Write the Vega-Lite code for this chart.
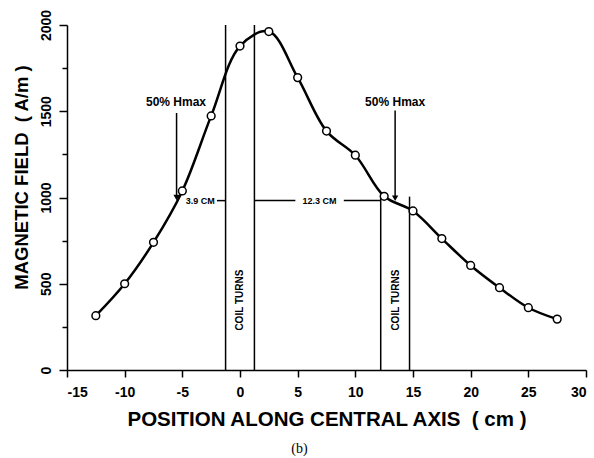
{
  "$schema": "https://vega.github.io/schema/vega-lite/v6.json",
  "width": 519,
  "height": 345,
  "autosize": "none",
  "padding": {"left": 67, "top": 25, "right": 8, "bottom": 88},
  "background": "white",
  "config": {
    "view": {"stroke": null},
    "font": "Liberation Sans",
    "axis": {"grid": false, "domainColor": "black", "tickColor": "black", "labelColor": "black", "titleColor": "black", "domainWidth": 1.5, "tickWidth": 1.5}
  },
  "title": {"text": "(b)", "orient": "bottom", "anchor": "middle", "font": "Liberation Serif", "fontSize": 14, "fontWeight": "normal", "dx": -27, "offset": 12},
  "datasets": {
    "curve": [
      {"pos": -12.5, "field": 315},
      {"pos": -10, "field": 500},
      {"pos": -7.5, "field": 740},
      {"pos": -5, "field": 1038},
      {"pos": -2.5, "field": 1473},
      {"pos": 0, "field": 1878},
      {"pos": 2.5, "field": 1962},
      {"pos": 5, "field": 1695},
      {"pos": 7.5, "field": 1385},
      {"pos": 10, "field": 1245},
      {"pos": 12.5, "field": 1007},
      {"pos": 15, "field": 922},
      {"pos": 17.5, "field": 762},
      {"pos": 20, "field": 606},
      {"pos": 22.5, "field": 477},
      {"pos": 25, "field": 361},
      {"pos": 27.5, "field": 295}
    ],
    "lines": [
      {"x": -1.25, "x2": -1.25, "y": 0, "y2": 2000},
      {"x": 1.25, "x2": 1.25, "y": 0, "y2": 2000},
      {"x": 12.2, "x2": 12.2, "y": 0, "y2": 1010},
      {"x": 14.7, "x2": 14.7, "y": 0, "y2": 1005},
      {"x": 1.25, "x2": 4.8, "y": 982, "y2": 982},
      {"x": 9.0, "x2": 12.2, "y": 982, "y2": 982},
      {"x": -2.0, "x2": -1.25, "y": 982, "y2": 982},
      {"x": -5.5, "x2": -5.5, "y": 1490, "y2": 1005},
      {"x": 13.45, "x2": 13.45, "y": 1505, "y2": 1000}
    ],
    "heads": [
      {"x": -5.5, "y": 1000},
      {"x": 13.45, "y": 995}
    ],
    "hmax": [
      {"x": -5.55, "y": 1555, "label": "50% Hmax"},
      {"x": 13.45, "y": 1555, "label": "50% Hmax"}
    ],
    "cm": [
      {"x": -3.45, "y": 982, "label": "3.9 CM"},
      {"x": 6.9, "y": 982, "label": "12.3 CM"}
    ],
    "coil": [
      {"x": 0, "y": 405, "label": "COIL TURNS"},
      {"x": 13.5, "y": 405, "label": "COIL TURNS"}
    ]
  },
  "layer": [
    {
      "data": {"name": "lines"},
      "mark": {"type": "rule", "color": "black", "strokeWidth": 1.5},
      "encoding": {
        "x": {"field": "x", "type": "quantitative",
          "scale": {"domain": [-15, 30], "nice": false, "zero": false},
          "axis": {
            "title": "POSITION ALONG CENTRAL AXIS \u00a0( cm )",
            "values": [-15, -12.5, -10, -7.5, -5, -2.5, 0, 2.5, 5, 7.5, 10, 12.5, 15, 17.5, 20, 22.5, 25, 27.5, 30],
            "labelExpr": "datum.value % 5 === 0 ? datum.value + '' : ''",
            "labelOverlap": false,
            "tickSize": {"condition": {"test": "datum.value % 5 === 0", "value": 7}, "value": 4},
            "labelFont": "Liberation Sans", "labelFontWeight": "bold", "labelFontSize": 14, "labelPadding": 8,
            "titleFont": "Liberation Sans", "titleFontWeight": "bold", "titleFontSize": 20.5, "titlePadding": 10
          }},
        "x2": {"field": "x2"},
        "y": {"field": "y", "type": "quantitative",
          "scale": {"domain": [0, 2000], "nice": false},
          "axis": {
            "title": "MAGNETIC FIELD \u00a0( A/m )",
            "values": [0, 250, 500, 750, 1000, 1250, 1500, 1750, 2000],
            "labelExpr": "datum.value % 500 === 0 ? datum.value + '' : ''",
            "labelOverlap": false,
            "tickSize": {"condition": {"test": "datum.value % 500 === 0", "value": 8}, "value": 5},
            "labelAngle": 270, "labelAlign": "center", "labelBaseline": "bottom",
            "labelFont": "Liberation Sans", "labelFontWeight": "bold", "labelFontSize": 14, "labelPadding": 6,
            "titleFont": "Liberation Sans", "titleFontWeight": "bold", "titleFontSize": 18.5,
            "titleAngle": -90, "titleX": -46, "titleY": 152, "titleAlign": "center", "titleBaseline": "middle"
          }},
        "y2": {"field": "y2"}
      }
    },
    {
      "data": {"name": "curve"},
      "mark": {"type": "line", "color": "black", "strokeWidth": 2.5, "interpolate": "catmull-rom"},
      "encoding": {
        "x": {"field": "pos", "type": "quantitative"},
        "y": {"field": "field", "type": "quantitative"}
      }
    },
    {
      "data": {"name": "curve"},
      "mark": {"type": "point", "shape": "circle", "filled": true, "fill": "white", "stroke": "black", "strokeWidth": 1.5, "size": 60, "opacity": 1},
      "encoding": {
        "x": {"field": "pos", "type": "quantitative"},
        "y": {"field": "field", "type": "quantitative"}
      }
    },
    {
      "data": {"name": "heads"},
      "mark": {"type": "point", "shape": "triangle-down", "filled": true, "color": "black", "size": 40, "opacity": 1},
      "encoding": {
        "x": {"field": "x", "type": "quantitative"},
        "y": {"field": "y", "type": "quantitative"}
      }
    },
    {
      "data": {"name": "hmax"},
      "mark": {"type": "text", "font": "Liberation Sans", "fontWeight": "bold", "fontSize": 12, "color": "black"},
      "encoding": {
        "x": {"field": "x", "type": "quantitative"},
        "y": {"field": "y", "type": "quantitative"},
        "text": {"field": "label"}
      }
    },
    {
      "data": {"name": "cm"},
      "mark": {"type": "text", "font": "Liberation Sans", "fontWeight": "bold", "fontSize": 9, "color": "black"},
      "encoding": {
        "x": {"field": "x", "type": "quantitative"},
        "y": {"field": "y", "type": "quantitative"},
        "text": {"field": "label"}
      }
    },
    {
      "data": {"name": "coil"},
      "mark": {"type": "text", "font": "Liberation Sans", "fontWeight": "bold", "fontSize": 10, "angle": 270, "color": "black"},
      "encoding": {
        "x": {"field": "x", "type": "quantitative"},
        "y": {"field": "y", "type": "quantitative"},
        "text": {"field": "label"}
      }
    }
  ]
}
